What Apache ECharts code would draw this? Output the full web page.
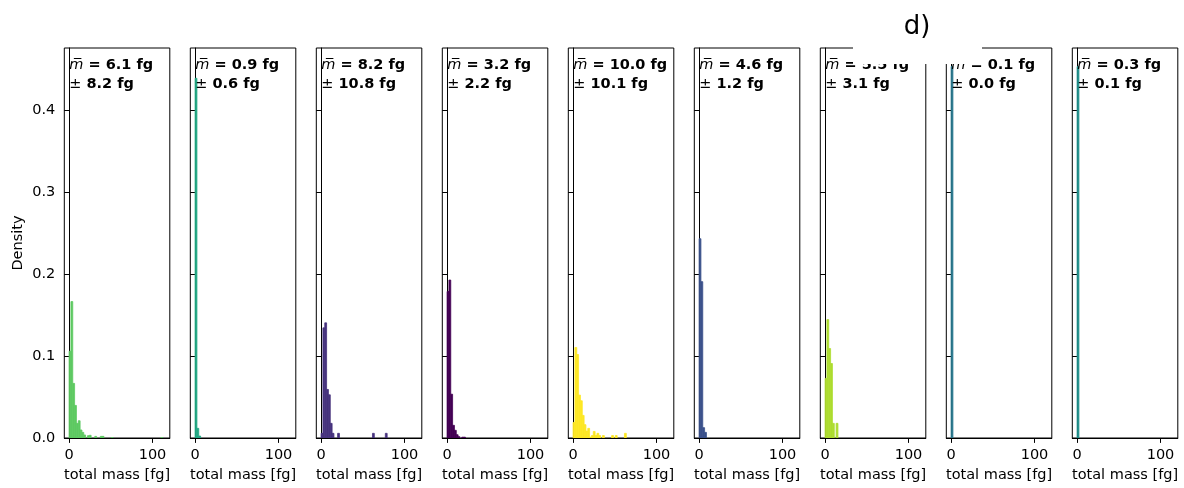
<!DOCTYPE html>
<html><head><meta charset="utf-8">
<script src="https://cdn.jsdelivr.net/npm/echarts@6/dist/echarts.min.js"></script>
<style>html,body{margin:0;padding:0;background:#fff}#c{width:1184px;height:488px}</style>
</head><body><div id="c"></div>
<script>
// ---- data ----
const BIN_WIDTH = 2.2;            // histogram bin width [fg]
const X_TICKS = [0, 100];
const Y_TICKS = [0, 0.1, 0.2, 0.3, 0.4];
const X_RANGE = [-5.75, 120.75];
const Y_MAX = 0.4765;
const meanLabels = ['6.1', '0.9', '8.2', '3.2', '10.0', '4.6', '5.5', '0.1', '0.3'];
const stdLabels  = ['8.2', '0.6', '10.8', '2.2', '10.1', '1.2', '3.1', '0.0', '0.1'];
const panelColors = ['#5ec962', '#22a884', '#46327e', '#440154', '#fde725', '#3b528b', '#addc30', '#2a788e', '#21918c'];
// densities per bin (bin i spans [i*BIN_WIDTH, (i+1)*BIN_WIDTH])
const hist1 = [0.106, 0.1667, 0.0667, 0.0398, 0.0179, 0.0211, 0.0098, 0.0069, 0.0037, 0, 0.0028, 0.0033, 0, 0, 0.002, 0, 0, 0.002, 0.002, 0, 0, 0, 0, 0.0005,
  0, 0, 0, 0, 0, 0, 0, 0, 0, 0, 0, 0, 0, 0, 0, 0, 0, 0, 0, 0, 0, 0, 0, 0, 0, 0, 0.0005];
const hist2 = [0.4395, 0.0118, 0.0024];
const hist3 = [0.0057, 0.1346, 0.1407, 0.0593, 0.0528, 0.0179, 0.0057, 0, 0, 0.0057, 0, 0, 0, 0, 0, 0, 0, 0, 0, 0, 0, 0, 0, 0, 0, 0, 0, 0, 0.0057,
  0, 0, 0, 0, 0, 0, 0.0057];
const hist4 = [0.179, 0.193, 0.0535, 0.0155, 0.0094, 0.004, 0.0016, 0, 0.001, 0.001];
const hist5 = [0.019, 0.1106, 0.102, 0.0524, 0.0455, 0.0276, 0.0163, 0.0085, 0.0118, 0.001, 0.003, 0.008, 0.003, 0.0057, 0.003, 0, 0.003,
  0, 0, 0, 0, 0.003, 0, 0.003, 0, 0, 0, 0, 0.0057];
const hist6 = [0.2435, 0.191, 0.0126, 0.0069];
const hist7 = [0.0728, 0.1447, 0.1093, 0.091, 0.0179, 0, 0.0179];
const hist8 = [0.4538];
const hist9 = [0.4538];
const histograms = [hist1, hist2, hist3, hist4, hist5, hist6, hist7, hist8, hist9];

// ---- layout ----
const FONT = 'DejaVu Sans';
const FS = 14.5;
const PANEL_LEFT0 = 64.3, PANEL_STEP = 126, PANEL_W = 105.5, PANEL_TOP = 48, PANEL_H = 390.7;

const grids = [], xAxes = [], yAxes = [], series = [], graphics = [];
histograms.forEach((h, k) => {
  const left = PANEL_LEFT0 + PANEL_STEP * k;
  grids.push({left: left, top: PANEL_TOP, width: PANEL_W, height: PANEL_H, show: true,
    borderColor: '#000', borderWidth: 1, backgroundColor: 'transparent'});
  xAxes.push({type: 'value', gridIndex: k, min: X_RANGE[0], max: X_RANGE[1],
    name: 'total mass [fg]', nameLocation: 'middle', nameGap: 30,
    nameTextStyle: {fontFamily: FONT, fontSize: FS, color: '#000'},
    axisLine: {show: true, onZero: false, lineStyle: {color: '#000', width: 1}},
    axisTick: {show: true, length: 4.9, lineStyle: {color: '#000', width: 1}, customValues: X_TICKS},
    axisLabel: {fontFamily: FONT, fontSize: FS, color: '#000', margin: 10, customValues: X_TICKS},
    splitLine: {show: false}});
  yAxes.push({type: 'value', gridIndex: k, min: 0, max: Y_MAX,
    name: k === 0 ? 'Density' : '', nameLocation: 'middle', nameGap: 39,
    nameTextStyle: {fontFamily: FONT, fontSize: FS, color: '#000'},
    axisLine: {show: true, lineStyle: {color: '#000', width: 1}},
    axisTick: {show: true, length: 4.9, lineStyle: {color: '#000', width: 1}, customValues: Y_TICKS},
    axisLabel: {show: k === 0, fontFamily: FONT, fontSize: FS, color: '#000', margin: 9,
      customValues: Y_TICKS, formatter: v => v.toFixed(1)},
    splitLine: {show: false}});
  const color = panelColors[k];
  series.push({type: 'custom', xAxisIndex: k, yAxisIndex: k, clip: true,
    data: h.map((d, i) => [i * BIN_WIDTH, (i + 1) * BIN_WIDTH, d]).filter(r => r[2] > 0),
    encode: {x: [0, 1], y: 2},
    renderItem: (params, api) => {
      const p0 = api.coord([api.value(0), api.value(2)]);
      const p1 = api.coord([api.value(1), 0]);
      return {type: 'rect', shape: {x: p0[0], y: p0[1], width: p1[0] - p0[0], height: p1[1] - p0[1]},
        style: {fill: color, stroke: color, lineWidth: 0.8}};
    }});
  graphics.push({type: 'text', left: left + 5, top: 58, z: 10,
    style: {text: '{m|m\u0305}{b| = ' + meanLabels[k] + ' fg}\n{p|\u00b1}{b| ' + stdLabels[k] + ' fg}',
      rich: {
        m: {fontFamily: FONT, fontStyle: 'italic', fontSize: FS, fill: '#000', lineHeight: 18.7},
        b: {fontFamily: FONT, fontWeight: 'bold', fontSize: FS, fill: '#000', lineHeight: 18.7},
        p: {fontFamily: FONT, fontSize: FS, fill: '#000', lineHeight: 18.7}
      }}});
});
// white patch behind the figure label, then the label
graphics.push({type: 'rect', z: 50, shape: {x: 853, y: 0, width: 129, height: 64}, style: {fill: '#fff'}});
graphics.push({type: 'text', z: 51, x: 917, y: 27,
  style: {text: 'd)', fontFamily: FONT, fontSize: 26, fill: '#000', align: 'center', verticalAlign: 'middle'}});

const chart = echarts.init(document.getElementById('c'), null, {renderer: 'canvas'});
chart.setOption({
  animation: false,
  backgroundColor: '#fff',
  grid: grids, xAxis: xAxes, yAxis: yAxes, series: series, graphic: graphics
});
</script></body></html>
